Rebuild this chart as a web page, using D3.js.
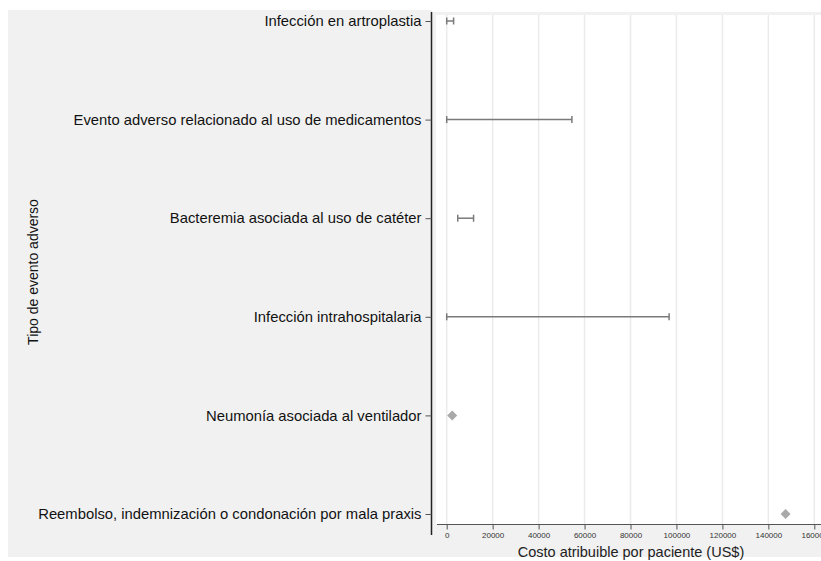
<!DOCTYPE html>
<html>
<head>
<meta charset="utf-8">
<script src="https://cdn.jsdelivr.net/npm/d3@7"></script>
<style>
  html, body { margin: 0; padding: 0; background: #fff; }
  svg { display: block; font-family: "Liberation Sans", Arial, Helvetica, sans-serif; }
</style>
</head>
<body>
<svg id="chart" width="821" height="561"></svg>
<script>
// Adverse event categories, top to bottom
const categories = [
  "Infección en artroplastia",
  "Evento adverso relacionado al uso de medicamentos",
  "Bacteremia asociada al uso de catéter",
  "Infección intrahospitalaria",
  "Neumonía asociada al ventilador",
  "Reembolso, indemnización o condonación por mala praxis"
];
// Attributable cost ranges (US$) per patient
const rangeLow  = [0, 0, 4800, 0, null, null];
const rangeHigh = [3000, 54500, 11700, 96800, null, null];
// Single point estimates (US$)
const pointValue = [null, null, null, null, 2400, 147500];
const xTicks = [0, 20000, 40000, 60000, 80000, 100000, 120000, 140000, 160000];

const svg = d3.select("#chart");

// Panel backgrounds
svg.append("rect").attr("x", 8).attr("y", 10).attr("width", 424).attr("height", 547).attr("fill", "#f1f1f1");
svg.append("rect").attr("x", 432).attr("y", 12).attr("width", 389).attr("height", 545).attr("fill", "#f1f1f1");
svg.append("rect").attr("x", 436).attr("y", 15).attr("width", 385).attr("height", 509).attr("fill", "#ffffff");

const x = d3.scaleLinear().domain([0, 160000]).range([446.7, 814.3]);
const y = d3.scalePoint().domain(categories).range([21, 514]);

// Vertical gridlines
svg.append("g").selectAll("line").data(xTicks).join("line")
  .attr("x1", d => x(d)).attr("x2", d => x(d))
  .attr("y1", 15).attr("y2", 524)
  .attr("stroke", "#ebebeb").attr("stroke-width", 1.5);

// Range bars with end caps
const rows = categories.map((c, i) => ({ c, lo: rangeLow[i], hi: rangeHigh[i], p: pointValue[i] }));
const bars = svg.append("g").selectAll("g").data(rows.filter(d => d.lo !== null)).join("g")
  .attr("stroke", "#7a7a7a").attr("stroke-width", 1.5);
bars.append("line")
  .attr("x1", d => x(d.lo)).attr("x2", d => x(d.hi))
  .attr("y1", d => y(d.c)).attr("y2", d => y(d.c));
bars.append("line")
  .attr("x1", d => x(d.lo)).attr("x2", d => x(d.lo))
  .attr("y1", d => y(d.c) - 3.5).attr("y2", d => y(d.c) + 3.5);
bars.append("line")
  .attr("x1", d => x(d.hi)).attr("x2", d => x(d.hi))
  .attr("y1", d => y(d.c) - 3.5).attr("y2", d => y(d.c) + 3.5);

// Point estimates as diamonds
svg.append("g").selectAll("path").data(rows.filter(d => d.p !== null)).join("path")
  .attr("transform", d => `translate(${x(d.p)},${y(d.c)})`)
  .attr("d", d3.symbol(d3.symbolDiamond2, 64))
  .attr("fill", "#a9a9a9");

// X axis
const xAxis = d3.axisBottom(x).tickValues(xTicks).tickFormat(d3.format("d")).tickSize(5).tickPadding(3);
const gx = svg.append("g").attr("transform", "translate(0,524.5)").call(xAxis);
gx.select(".domain").attr("d", `M437,0H821`).attr("stroke", "#555");
gx.selectAll(".tick line").attr("stroke", "#555");
gx.selectAll(".tick text").attr("font-size", 8).attr("fill", "#333")
  .attr("font-family", "'Liberation Sans', Arial, sans-serif");

svg.append("text").attr("x", 631).attr("y", 557).attr("text-anchor", "middle")
  .attr("font-size", 14.5).attr("fill", "#222").text("Costo atribuible por paciente (US$)");

// Y axis with category labels
const yAxis = d3.axisLeft(y).tickSize(6).tickPadding(4);
const gy = svg.append("g").attr("transform", "translate(431.5,0)").call(yAxis);
gy.select(".domain").attr("d", "M0,12V535").attr("stroke", "#222").attr("stroke-width", 1.5);
gy.selectAll(".tick line").attr("stroke", "#555");
gy.selectAll(".tick text").attr("font-size", 14.8).attr("fill", "#111")
  .attr("font-family", "'Liberation Sans', Arial, sans-serif");

svg.append("text").attr("transform", "translate(38,272) rotate(-90)").attr("text-anchor", "middle")
  .attr("font-size", 14).attr("fill", "#111").text("Tipo de evento adverso");
</script>
</body>
</html>
